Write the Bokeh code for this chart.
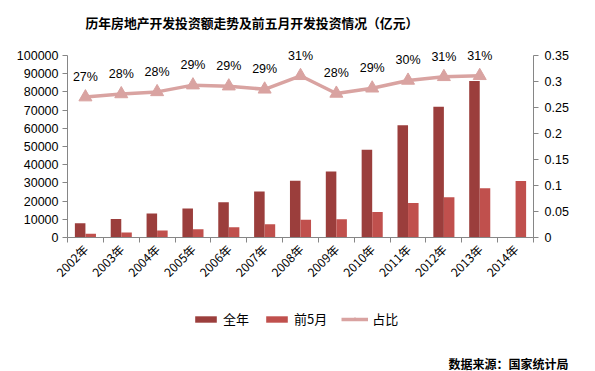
from bokeh.plotting import figure
from bokeh.models import (Range1d, LinearAxis, FixedTicker, BasicTickFormatter, ColumnDataSource,
                          Legend, LegendItem, Title)
from bokeh.layouts import column
from bokeh.core.properties import value
from bokeh.embed import file_html
from bokeh.resources import INLINE
import math

years = ["2002年", "2003年", "2004年", "2005年", "2006年", "2007年", "2008年",
         "2009年", "2010年", "2011年", "2012年", "2013年", "2014年"]
full_year = [7791, 10154, 13158, 15909, 19423, 25289, 31203, 36242, 48259, 61740, 71804, 86013, None]
first5 = [2000, 2800, 3900, 4600, 5700, 7300, 9800, 10000, 14000, 19000, 22100, 27100, 31000]
ratio = [0.27, 0.276, 0.280, 0.293, 0.291, 0.285, 0.311, 0.277, 0.287, 0.302, 0.309, 0.311]
ratio_labels = ["27%", "28%", "28%", "29%", "29%", "29%", "31%", "28%", "29%", "30%", "31%", "31%"]
left_ticks = [0, 10000, 20000, 30000, 40000, 50000, 60000, 70000, 80000, 90000, 100000]
right_ticks = [0, 0.05, 0.1, 0.15, 0.2, 0.25, 0.3, 0.35]
right_labels = ["0", "0.05", "0.1", "0.15", "0.2", "0.25", "0.3", "0.35"]
left_max, right_max = 100000, 0.35
series_names = ["全年", "前5月", "占比"]
title_text = "历年房地产开发投资额走势及前五月开发投资情况（亿元）"
source_text = "数据来源：国家统计局"

C_FULL = "#9B3E3C"
C_F5 = "#C0504D"
C_LINE = "#D9A3A1"
AX = "#868686"
TXT = "#000000"

n = len(years)
centers = [i + 0.5 for i in range(n)]

# main chart: frame left 67, right 533, top 40 (axis top at 55), bottom 237
FRAME_TOP, AXIS_TOP, FRAME_BOTTOM, H1 = 40, 55, 237, 300
ext = (FRAME_BOTTOM - FRAME_TOP) / (FRAME_BOTTOM - AXIS_TOP)

p = figure(width=595, height=H1, output_backend="svg", toolbar_location=None,
           x_range=Range1d(0, n), y_range=Range1d(0, left_max * ext),
           min_border_left=67, min_border_right=62, min_border_top=FRAME_TOP,
           min_border_bottom=H1 - FRAME_BOTTOM)
p.outline_line_color = None
p.xgrid.visible = False
p.ygrid.visible = False
p.extra_y_ranges = {"pct": Range1d(0, right_max * ext)}

src_full = ColumnDataSource(dict(x=[c - 0.147 for c in centers[:12]], top=full_year[:12]))
src_f5 = ColumnDataSource(dict(x=[c + 0.147 for c in centers], top=first5))
p.vbar(x="x", top="top", width=0.294, source=src_full, fill_color=C_FULL, line_color=None)
p.vbar(x="x", top="top", width=0.294, source=src_f5, fill_color=C_F5, line_color=None)

src_r = ColumnDataSource(dict(x=centers[:12], y=ratio, lab=ratio_labels))
p.line(x="x", y="y", source=src_r, y_range_name="pct", line_color=C_LINE, line_width=3.5)
p.scatter(x="x", y="y", source=src_r, y_range_name="pct", marker="triangle", size=13,
          fill_color=C_LINE, line_color=C_LINE)
p.text(x="x", y="y", text="lab", source=src_r, y_range_name="pct", y_offset=-13,
       text_align="center", text_baseline="bottom", text_font=value("Liberation Sans"),
       text_font_size="12.5px", text_color=TXT)

xa = p.xaxis[0]
xa.ticker = FixedTicker(ticks=centers, minor_ticks=list(range(n + 1)))
xa.major_label_overrides = {c: y for c, y in zip(centers, years)}
xa.major_tick_out = 0
xa.major_tick_in = 0
xa.minor_tick_out = 5
xa.minor_tick_in = 0
xa.minor_tick_line_color = AX
xa.axis_line_color = AX
xa.major_label_orientation = math.pi / 4
xa.major_label_text_font = "Noto Sans CJK SC"
xa.major_label_text_font_size = "12px"
xa.major_label_text_color = TXT
xa.major_label_standoff = 4

ya = p.yaxis[0]
ya.bounds = (0, left_max)
ya.ticker = FixedTicker(ticks=left_ticks)
ya.formatter = BasicTickFormatter(use_scientific=False)
ya.major_tick_out = 5
ya.major_tick_in = 0
ya.minor_tick_out = 0
ya.minor_tick_in = 0
ya.axis_line_color = AX
ya.major_tick_line_color = AX
ya.major_label_text_font = "Liberation Sans"
ya.major_label_text_font_size = "12.5px"
ya.major_label_text_color = TXT
ya.major_label_standoff = 4

ra = LinearAxis(y_range_name="pct", ticker=FixedTicker(ticks=right_ticks), bounds=(0, right_max))
ra.major_label_overrides = {t: l for t, l in zip(right_ticks, right_labels)}
ra.major_tick_out = 5
ra.major_tick_in = 0
ra.minor_tick_out = 0
ra.minor_tick_in = 0
ra.axis_line_color = AX
ra.major_tick_line_color = AX
ra.major_label_text_font = "Liberation Sans"
ra.major_label_text_font_size = "12.5px"
ra.major_label_text_color = TXT
ra.major_label_standoff = 6
p.add_layout(ra, "right")

p.title = Title(text=title_text, align="left", offset=18, standoff=18,
                text_font="Noto Sans CJK SC", text_font_style="bold",
                text_font_size="12.8px", text_color=TXT)

# lower strip: legend (in frame) and source note (below panel)
H2 = 371 - H1
q = figure(width=595, height=H2, output_backend="svg", toolbar_location=None,
           x_range=Range1d(0, 1), y_range=Range1d(0, 1),
           x_axis_location=None, y_axis_location=None,
           min_border_left=67, min_border_right=62, min_border_top=0, min_border_bottom=0)
q.xgrid.visible = False
q.ygrid.visible = False
q.outline_line_color = None

# legend proxies with no drawable position (only their styles feed the legend)
nan = float("nan")
e_full = q.vbar(x=[nan], top=[nan], width=1, fill_color=C_FULL, line_color=None)
e_f5 = q.vbar(x=[nan], top=[nan], width=1, fill_color=C_F5, line_color=None)
e_line = q.line(x=[nan, nan], y=[nan, nan], line_color=C_LINE, line_width=3.5)
e_pts = q.scatter(x=[nan], y=[nan], marker="triangle", size=13, fill_color=C_LINE, line_color=C_LINE)

legend = Legend(items=[LegendItem(label=series_names[0], renderers=[e_full]),
                       LegendItem(label=series_names[1], renderers=[e_f5]),
                       LegendItem(label=series_names[2], renderers=[e_line, e_pts])],
                orientation="horizontal", location=(125, 24),
                glyph_width=27, glyph_height=8, label_standoff=4, spacing=14,
                padding=0, margin=0, border_line_color=None, background_fill_alpha=0,
                label_text_font="Noto Sans CJK SC", label_text_font_size="13px",
                label_text_color=TXT, label_height=14)
q.add_layout(legend, "center")

q.add_layout(Title(text=source_text, align="right", offset=-35, standoff=0,
                   text_font="Noto Sans CJK SC", text_font_style="bold",
                   text_font_size="12px", text_color=TXT), "below")

open("out.html", "w").write(file_html(column(p, q), INLINE))
